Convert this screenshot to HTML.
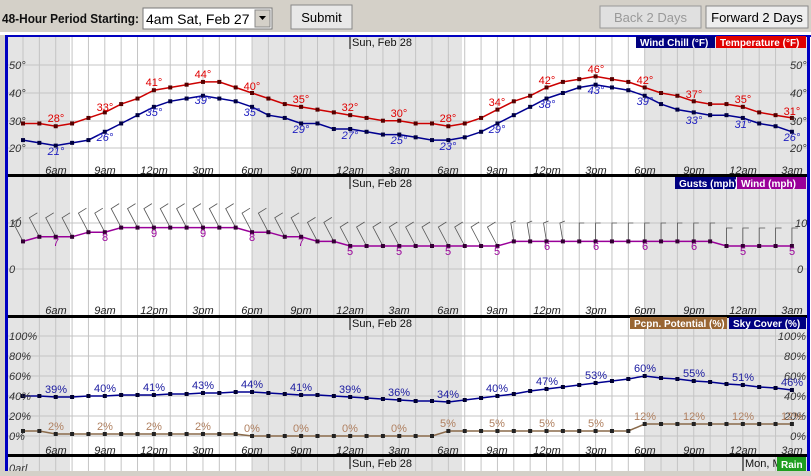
<!DOCTYPE html><html><head><meta charset="utf-8"><style>
body{margin:0;width:811px;height:471px;overflow:hidden;background:#d4d0c8;font-family:"Liberation Sans",Arial,sans-serif}
svg text{font-family:"Liberation Sans",Arial,sans-serif}
.t{font-size:11px;font-style:italic;fill:#222;text-anchor:middle}
.ax{font-size:11px;font-style:italic;fill:#333}
.r{fill:#e00000;font-size:11px;text-anchor:middle}
.b{fill:#2020c0;font-size:11px;text-anchor:middle;font-style:italic}
.p{fill:#990099;font-size:11px;text-anchor:middle}
.s{fill:#1a1aa0;font-size:11px;text-anchor:middle}
.c{fill:#b08060;font-size:11px;text-anchor:middle}
.lg{fill:#fff;font-size:10px;font-weight:bold}
</style></head><body>
<svg id="s" width="811" height="471" xmlns="http://www.w3.org/2000/svg">
<rect x="0" y="0" width="811" height="33" fill="#d4d0c8"/>
<text x="2" y="23" font-size="13" font-weight="bold" fill="#111" textLength="137" lengthAdjust="spacingAndGlyphs">48-Hour Period Starting:</text>
<rect x="143" y="8" width="129" height="21" fill="#fff" stroke="#777"/>
<text x="146" y="24" font-size="14" fill="#000">4am Sat, Feb 27</text>
<rect x="255" y="10" width="15" height="17" fill="#d4d0c8" stroke="#888"/>
<path d="M259 16 L266 16 L262.5 20 Z" fill="#000"/>
<rect x="291" y="5" width="61" height="24" fill="#e8e8e8" stroke="#888"/>
<text x="321.5" y="22" font-size="13" text-anchor="middle" fill="#000">Submit</text>
<rect x="600" y="6" width="101" height="22" fill="#e0e0e0" stroke="#999"/>
<text x="650.5" y="22" font-size="13" text-anchor="middle" fill="#999">Back 2 Days</text>
<rect x="706" y="6" width="102" height="22" fill="#eeeeee" stroke="#888"/>
<text x="757" y="22" font-size="13" text-anchor="middle" fill="#000">Forward 2 Days</text>
<rect x="0" y="32" width="811" height="3" fill="#fff"/>
<rect x="5" y="35" width="806" height="436" fill="#fff"/>
<g id="bg"></g>
<g id="fg"></g>
<g id="tx">
<text x="352" y="46" font-size="11" fill="#111">Sun, Feb 28</text>
<rect x="636" y="36" width="79" height="12" fill="#000080"/><text class="lg" x="640" y="46">Wind Chill (°F)</text>
<rect x="716" y="36" width="90" height="12" fill="#e00000"/><text class="lg" x="720" y="46">Temperature (°F)</text>
<text class="ax" x="9" y="69">50°</text><text class="ax" x="9" y="97">40°</text><text class="ax" x="9" y="125">30°</text><text class="ax" x="9" y="152">20°</text>
<text class="ax" x="790" y="69">50°</text><text class="ax" x="790" y="97">40°</text><text class="ax" x="790" y="125">30°</text><text class="ax" x="790" y="152">20°</text>
<g class="t"><text x="56" y="174">6am</text><text x="105" y="174">9am</text><text x="154" y="174">12pm</text><text x="203" y="174">3pm</text><text x="252" y="174">6pm</text><text x="301" y="174">9pm</text><text x="350" y="174">12am</text><text x="399" y="174">3am</text><text x="448" y="174">6am</text><text x="497" y="174">9am</text><text x="547" y="174">12pm</text><text x="596" y="174">3pm</text><text x="645" y="174">6pm</text><text x="694" y="174">9pm</text><text x="743" y="174">12am</text><text x="792" y="174">3am</text></g>
<g class="r"><text x="56" y="122">28°</text><text x="105" y="111">33°</text><text x="154" y="86">41°</text><text x="203" y="78">44°</text><text x="252" y="90">40°</text><text x="301" y="103">35°</text><text x="350" y="111">32°</text><text x="399" y="117">30°</text><text x="448" y="122">28°</text><text x="497" y="106">34°</text><text x="547" y="84">42°</text><text x="596" y="73">46°</text><text x="645" y="84">42°</text><text x="694" y="98">37°</text><text x="743" y="103">35°</text><text x="792" y="115">31°</text></g>
<g class="b"><text x="56" y="155">21°</text><text x="105" y="141">26°</text><text x="154" y="116">35°</text><text x="203" y="104">39°</text><text x="252" y="116">35°</text><text x="301" y="133">29°</text><text x="350" y="139">27°</text><text x="399" y="144">25°</text><text x="448" y="150">23°</text><text x="497" y="133">29°</text><text x="547" y="108">38°</text><text x="596" y="94">43°</text><text x="645" y="105">39°</text><text x="694" y="124">33°</text><text x="743" y="128">31°</text><text x="792" y="141">26°</text></g>
<text x="352" y="187" font-size="11" fill="#111">Sun, Feb 28</text>
<rect x="675" y="177" width="61" height="12" fill="#000080"/><text class="lg" x="679" y="187">Gusts (mph)</text>
<rect x="737" y="177" width="69" height="12" fill="#990099"/><text class="lg" x="741" y="187">Wind (mph)</text>
<text class="ax" x="9" y="227">10</text><text class="ax" x="9" y="273">0</text>
<text class="ax" x="795" y="227">10</text><text class="ax" x="797" y="273">0</text>
<g class="t"><text x="56" y="314">6am</text><text x="105" y="314">9am</text><text x="154" y="314">12pm</text><text x="203" y="314">3pm</text><text x="252" y="314">6pm</text><text x="301" y="314">9pm</text><text x="350" y="314">12am</text><text x="399" y="314">3am</text><text x="448" y="314">6am</text><text x="497" y="314">9am</text><text x="547" y="314">12pm</text><text x="596" y="314">3pm</text><text x="645" y="314">6pm</text><text x="694" y="314">9pm</text><text x="743" y="314">12am</text><text x="792" y="314">3am</text></g>
<g class="p"><text x="56" y="246">7</text><text x="105" y="241">8</text><text x="154" y="237">9</text><text x="203" y="237">9</text><text x="252" y="241">8</text><text x="301" y="246">7</text><text x="350" y="255">5</text><text x="399" y="255">5</text><text x="448" y="255">5</text><text x="497" y="255">5</text><text x="547" y="250">6</text><text x="596" y="250">6</text><text x="645" y="250">6</text><text x="694" y="250">6</text><text x="743" y="255">5</text><text x="792" y="255">5</text></g>
<text x="352" y="327" font-size="11" fill="#111">Sun, Feb 28</text>
<rect x="630" y="317" width="97" height="12" fill="#996633"/><text class="lg" x="634" y="327">Pcpn. Potential (%)</text>
<rect x="729" y="317" width="77" height="12" fill="#000080"/><text class="lg" x="733" y="327">Sky Cover (%)</text>
<g class="ax"><text x="9" y="340">100%</text><text x="9" y="360">80%</text><text x="9" y="380">60%</text><text x="9" y="400">40%</text><text x="9" y="420">20%</text><text x="9" y="440">0%</text></g>
<g class="ax" text-anchor="end"><text x="806" y="340">100%</text><text x="806" y="360">80%</text><text x="806" y="380">60%</text><text x="806" y="400">40%</text><text x="806" y="420">20%</text><text x="806" y="440">0%</text></g>
<g class="t"><text x="56" y="454">6am</text><text x="105" y="454">9am</text><text x="154" y="454">12pm</text><text x="203" y="454">3pm</text><text x="252" y="454">6pm</text><text x="301" y="454">9pm</text><text x="350" y="454">12am</text><text x="399" y="454">3am</text><text x="448" y="454">6am</text><text x="497" y="454">9am</text><text x="547" y="454">12pm</text><text x="596" y="454">3pm</text><text x="645" y="454">6pm</text><text x="694" y="454">9pm</text><text x="743" y="454">12am</text><text x="792" y="454">3am</text></g>
<g class="s"><text x="56" y="393">39%</text><text x="105" y="392">40%</text><text x="154" y="391">41%</text><text x="203" y="389">43%</text><text x="252" y="388">44%</text><text x="301" y="391">41%</text><text x="350" y="393">39%</text><text x="399" y="396">36%</text><text x="448" y="398">34%</text><text x="497" y="392">40%</text><text x="547" y="385">47%</text><text x="596" y="379">53%</text><text x="645" y="372">60%</text><text x="694" y="377">55%</text><text x="743" y="381">51%</text><text x="792" y="386">46%</text></g>
<g class="c"><text x="56" y="430">2%</text><text x="105" y="430">2%</text><text x="154" y="430">2%</text><text x="203" y="430">2%</text><text x="252" y="432">0%</text><text x="301" y="432">0%</text><text x="350" y="432">0%</text><text x="399" y="432">0%</text><text x="448" y="427">5%</text><text x="497" y="427">5%</text><text x="547" y="427">5%</text><text x="596" y="427">5%</text><text x="645" y="420">12%</text><text x="694" y="420">12%</text><text x="743" y="420">12%</text><text x="792" y="420">12%</text></g>
<text x="352" y="467" font-size="11" fill="#111">Sun, Feb 28</text>
<text x="745" y="467" font-size="11" fill="#111">Mon, M</text>
<rect x="777" y="457" width="29" height="14" fill="#1e9e1e"/><text class="lg" x="781" y="468">Rain</text>
<text class="ax" x="9" y="472">0arl</text>
</g>
</svg>
<script>
var NS="http://www.w3.org/2000/svg",bg=document.getElementById('bg'),fg=document.getElementById('fg');
function el(p,n,a){var e=document.createElementNS(NS,n);for(var k in a)e.setAttribute(k,a[k]);p.appendChild(e);return e;}
function X(h){return 23+16.36*h;}
var panels=[[37,175],[177,316],[318,455],[457,471]];
panels.forEach(function(p){
 var y=p[0],hh=p[1]-p[0];
 el(bg,'rect',{x:8,y:y,width:62,height:hh,fill:'#e4e4e4'});
 el(bg,'rect',{x:252,y:y,width:210,height:hh,fill:'#e4e4e4'});
 el(bg,'rect',{x:645,y:y,width:162,height:hh,fill:'#e4e4e4'});
 for(var h=0;h<48;h++)el(bg,'line',{x1:X(h),y1:y,x2:X(h),y2:p[1],stroke:'#c4c4c4','stroke-width':1});
 el(bg,'line',{x1:350,y1:y,x2:350,y2:y+12,stroke:'#000'});
});
el(bg,'line',{x1:743,y1:457,x2:743,y2:471,stroke:'#000'});
[65,93,121,148,223,269,336,356,376,396,416,436].forEach(function(y){el(bg,'line',{x1:8,y1:y,x2:807,y2:y,stroke:'#c4c4c4'});});
function series(vals,fy,col,mk){
 var pts=vals.map(function(v,h){return X(h).toFixed(1)+','+fy(v).toFixed(1);}).join(' ');
 el(fg,'polyline',{points:pts,fill:'none',stroke:col,'stroke-width':1.5});
 vals.forEach(function(v,h){el(fg,'rect',{x:X(h)-2,y:fy(v)-2,width:4,height:4,fill:mk});});
}
var T=[29,29,28,29,31,33,36,38,41,42,43,44,44,42,40,38,36,35,34,33,32,31,30,30,29,29,28,29,31,34,37,39,42,44,45,46,45,44,42,40,39,37,36,36,35,33,32,31];
var W=[23,22,21,22,23,26,29,32,35,37,38,39,38,37,35,32,31,29,29,27,27,26,25,25,24,23,23,24,26,29,32,35,38,40,42,43,42,41,39,36,34,33,32,32,31,29,28,26];
var fT=function(v){return 148.4-(v-20)*2.77;};
var WS=[6,7,7,7,8,8,9,9,9,9,9,9,9,9,8,8,7,7,6,6,5,5,5,5,5,5,5,5,5,5,6,6,6,6,6,6,6,6,6,6,6,6,6,5,5,5,5,5];
var fW=function(v){return 269-4.6*v;};
WS.forEach(function(v,h){
 var x=X(h),y=fW(v),tx,ty,bx,by;
 if(h<30){tx=x-10;ty=y-19;bx=tx+8;by=ty-5;}
 else if(h<34){tx=x-3;ty=223;bx=tx+5;by=ty-2;}
 else if(h<43){tx=x;ty=223;bx=tx+5;by=ty;}
 else{tx=x;ty=228;bx=tx+6;by=ty;}
 el(fg,'polyline',{points:bx+','+by+' '+tx+','+ty+' '+x+','+y,fill:'none',stroke:'#555','stroke-width':0.8});
});
series(T,fT,'#cc0000','#550000');
series(W,fT,'#000090','#000040');
series(WS,fW,'#990099','#330033');
var SK=[40,40,39,39,40,40,41,41,41,42,42,43,43,44,44,43,42,41,41,40,39,38,37,36,35,35,34,36,38,40,42,45,47,49,51,53,55,57,60,58,57,55,54,52,51,49,48,46];
var PC=[5,5,2,2,2,2,2,2,2,2,2,2,2,2,0,0,0,0,0,0,0,0,0,0,0,0,5,5,5,5,5,5,5,5,5,5,5,5,12,12,12,12,12,12,12,12,12,12];
var fP=function(v){return 436-v;};
series(PC,fP,'#8a6a4a','#222');
series(SK,fP,'#000090','#000030');
[175,316,455].forEach(function(y){el(fg,'rect',{x:8,y:y-1,width:800,height:3,fill:'#000'});});
el(fg,'rect',{x:5,y:35,width:3,height:436,fill:'#0000c0'});
el(fg,'rect',{x:5,y:35,width:806,height:2,fill:'#0000c0'});
el(fg,'rect',{x:807,y:35,width:3,height:436,fill:'#0000c0'});
</script>
</body></html>
